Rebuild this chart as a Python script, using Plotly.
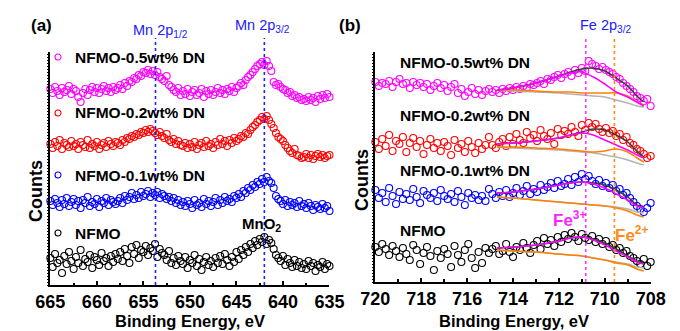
import numpy as np
import plotly.graph_objects as go

W, H = 680, 331
def PX(x): return x / W
def PY(y): return 1 - y / H

# ---------------- Panel (a): Mn 2p ----------------
be_a = np.linspace(665, 635, 121)

mn_05 = [196,192,198,194,190,197,193,195,199,191,196,194,188,183,192,196,190,195,198,193,197,192,196,199,194,197,193,198,195,
         197,200,196,202,199,204,203,207,206,210,209,213,
         212,215,211,214,210,213,208,206,
         204,209,200,198,195,193,197,190,
         194,191,196,189,193,195,190,192,196,188,194,191,195,190,193,197,192,195,191,196,194,198,193,197,
         199,202,200,205,208,210,213,216,219,221,
         223,220,224,219,
         214,203,200,201,
         198,196,195,192,193,189,190,187,188,185,
         186,184,188,185,187,183,189,186,190,187,191,188]
mn_02 = [141,137,143,139,145,136,142,140,138,144,139,141,136,143,140,138,145,137,141,139,143,136,140,142,138,144,141,139,143,
         142,140,145,143,147,146,149,148,151,150,153,152,
         155,153,156,154,152,150,153,149,
         147,151,145,143,146,141,144,140,
         139,142,137,141,138,143,136,140,142,138,144,139,141,137,143,140,146,141,144,139,145,142,147,144,
         146,149,148,152,151,155,158,160,163,165,
         168,166,169,165,
         161,157,152,148,
         146,144,140,137,134,132,136,130,129,127,
         128,131,127,130,126,129,131,128,130,127,129,130]
mn_01 = [84,80,86,82,78,85,81,87,79,83,86,80,84,77,85,82,88,79,83,81,86,78,84,82,87,80,85,83,81,
         84,87,82,89,85,88,92,86,90,87,93,89,
         91,94,88,92,90,93,87,91,
         89,86,88,84,87,82,85,80,
         83,79,84,81,77,85,80,82,78,86,81,84,79,83,87,80,85,82,88,84,86,83,89,87,
         91,88,94,92,97,95,100,98,103,101,
         106,103,108,104,
         102,97,89,86,
         84,81,85,79,83,80,82,78,84,79,
         81,77,82,79,75,80,78,76,81,77,79,74]
mn_00 = [27,18,31,22,25,12,29,21,33,24,16,28,22,35,19,26,23,30,17,28,25,20,32,24,27,19,29,23,31,
         26,33,24,36,29,22,38,31,40,27,35,33,
         39,30,37,34,41,28,36,32,
         30,25,34,22,27,20,29,24,
         21,28,17,25,22,30,19,26,15,23,28,20,24,18,27,22,29,21,31,25,19,28,23,33,
         26,35,30,38,33,41,37,44,40,46,
         43,48,41,45,
         42,36,30,27,
         24,29,20,26,22,18,25,19,23,17,
         21,16,24,19,22,14,20,18,23,16,21,19]

# ---------------- Panel (b): Fe 2p3/2 ----------------
be_b = np.linspace(720, 708, 81)

fe_05 = [200,196,199,198,201,195,200,203,198,199,194,200,197,199,195,198,192,196,199,194,197,
         191,195,198,189,193,186,190,194,188,192,187,191,193,
         190,192,189,193,191,194,192,195,193,196,194,198,
         197,199,201,198,203,202,205,207,204,208,
         210,206,212,209,214,211,221,
         218,216,213,215,212,210,
         208,205,203,199,196,193,
         190,186,184,181,183,176]
fe_02 = [140,133,143,136,147,131,141,138,145,130,139,144,135,141,128,137,143,134,139,131,140,
         136,127,142,134,138,130,141,135,129,139,133,137,145,
         137,134,140,143,136,145,138,148,142,139,150,144,
         147,141,152,146,143,149,138,153,147,151,
         148,155,150,146,157,152,159,
         155,158,153,150,154,149,
         151,146,148,142,145,139,
         137,133,131,128,124,126]
fe_01 = [92,84,89,80,94,86,78,90,83,88,82,93,85,79,91,87,84,89,81,92,86,
         83,88,80,91,85,77,89,84,87,82,86,81,93,
         88,84,90,86,92,85,89,94,87,91,96,88,
         93,90,97,92,95,99,94,101,96,98,
         103,97,105,100,108,103,106,
         101,98,102,96,99,94,
         97,91,93,87,89,84,
         80,76,73,70,74,79]
fe_00 = [35,30,38,33,27,36,31,25,34,28,22,37,32,18,29,35,26,12,31,24,33,
         28,15,36,27,20,32,38,24,14,30,19,34,29,
         33,36,28,31,38,30,25,35,32,39,34,29,
         37,41,33,44,38,42,36,45,40,47,
         43,49,45,41,48,44,42,
         46,40,43,38,41,35,
         37,32,34,29,31,26,
         24,21,18,23,16,20]

fit_x = [714.7, 714, 713, 712, 711.5, 711, 710.5, 710, 709.5, 709, 708.6, 708.3]
fits = {
    "0.5": dict(bg=[192,191,190,189,188,187,186,185,182,179,176,175],
                fe2=[192,192,191,190,190,189,189,189,189,186,180,177],
                fe3=[192,194,199,206,209,210,205,198,190,185,180,176],
                env=[192,194,199,206,210,213,214,211,204,196,186,180]),
    "0.2": dict(bg=[135,134,133,132,131,130,129,127,125,122,119,117],
                fe2=[135,135,134,133,132,131,130,131,133,130,124,120],
                fe3=[138,139,141,144,147,149,147,142,137,132,127,124],
                env=[138,139,141,144,147,150,153,152,147,140,131,125]),
    "0.1": dict(bg=[85,84,82,80,79,78,77,76,75,73,70,69],
                fe2=[85,84,82,80,79,78,77,76,74,71,67,65],
                fe3=[89,90,93,97,99,100,98,94,88,82,76,74],
                env=[89,90,93,97,99,100,99,97,92,85,77,74]),
    "0": dict(bg=[32,31,30,28,27,26,24,22,20,18,15,14],
              fe2=[32,31,30,28,27,26,24,22,19,17,13,11],
              fe3=[34,35,37,41,44,45,42,37,31,25,20,18],
              env=[34,35,37,41,44,45,43,39,33,26,21,18]),
}

labels = ["NFMO-0.5wt% DN", "NFMO-0.2wt% DN", "NFMO-0.1wt% DN", "NFMO"]
colors = ["#FF00FF", "#FF0000", "#0000FF", "#000000"]
mn_lines = [653.7, 642.0]
fe3_line, fe2_line = 710.83, 709.58

for arr, n in [(mn_05,121),(mn_02,121),(mn_01,121),(mn_00,121),(fe_05,81),(fe_02,81),(fe_01,81),(fe_00,81)]:
    assert len(arr) == n, (len(arr), n)

fig = go.Figure()
for ys, c in zip([mn_05, mn_02, mn_01, mn_00], colors):
    fig.add_trace(go.Scatter(x=be_a, y=ys, mode="markers", xaxis="x", yaxis="y",
                             marker=dict(symbol="circle-open", size=7, color=c, line=dict(width=1.1)),
                             cliponaxis=False))
for ys, c in zip([fe_05, fe_02, fe_01, fe_00], colors):
    fig.add_trace(go.Scatter(x=be_b, y=ys, mode="markers", xaxis="x2", yaxis="y2",
                             marker=dict(symbol="circle-open", size=7, color=c, line=dict(width=1.1)),
                             cliponaxis=False))
for key in ["0.5", "0.2", "0.1", "0"]:
    f = fits[key]
    for comp, col in [("bg", "#B4B4B4"), ("fe2", "#FF8000"), ("env", "#3C3C3C"), ("fe3", "#FF00FF")]:
        fig.add_trace(go.Scatter(x=fit_x, y=f[comp], mode="lines", xaxis="x2", yaxis="y2",
                                 line=dict(color=col, width=1.5, shape="spline", smoothing=1.0)))

bold = dict(family="Liberation Sans, Arial, sans-serif", color="black")
ax_common = dict(showline=True, linecolor="black", linewidth=1.5, showgrid=False, zeroline=False,
                 ticks="inside", ticklen=4, tickwidth=1.5, tickcolor="black",
                 tickfont=dict(size=18, weight="bold", **bold))
fig.update_layout(
    width=W, height=H, margin=dict(l=0, r=0, t=0, b=0),
    paper_bgcolor="white", plot_bgcolor="white", showlegend=False,
    xaxis=dict(domain=[PX(37), PX(329)], range=[665, 635], dtick=5, anchor="y",
               minor=dict(dtick=2.5, ticks="inside", ticklen=2, tickcolor="black"), **ax_common),
    yaxis=dict(domain=[PY(285), PY(52)], range=[0, 233], anchor="x", showline=True, linecolor="black",
               linewidth=1.5, showgrid=False, zeroline=False, showticklabels=False,
               ticks="outside", ticklen=2, dtick=3, tickcolor="black"),
    xaxis2=dict(domain=[PX(377), PX(665)], range=[720, 708], dtick=2, anchor="y2",
                minor=dict(dtick=1, ticks="inside", ticklen=3, tickcolor="black"), **ax_common),
    yaxis2=dict(domain=[PY(282), PY(52)], range=[0, 230], anchor="x2", showline=True, linecolor="black",
                linewidth=1.5, showgrid=False, zeroline=False, showticklabels=False,
                ticks="outside", ticklen=2, dtick=3, tickcolor="black"),
)

shapes = []
for e in mn_lines:
    shapes.append(dict(type="line", xref="x", yref="paper", x0=e, x1=e, y0=PY(285), y1=PY(38),
                       line=dict(color="#2020FF", width=1.6, dash="dot")))
shapes.append(dict(type="line", xref="x2", yref="paper", x0=fe3_line, x1=fe3_line, y0=PY(282), y1=PY(38),
                   line=dict(color="#FF33FF", width=1.6, dash="dot")))
shapes.append(dict(type="line", xref="x2", yref="paper", x0=fe2_line, x1=fe2_line, y0=PY(282), y1=PY(38),
                   line=dict(color="#FF8C1A", width=1.6, dash="dot")))
# legend circles (panel a)
for yy, c in zip([57, 113, 175, 233], colors):
    shapes.append(dict(type="circle", xref="paper", yref="paper", xsizemode="pixel", ysizemode="pixel",
                       xanchor=PX(45), yanchor=PY(yy), x0=-3, x1=3, y0=-3, y1=3,
                       line=dict(color=c, width=1.1)))
fig.update_layout(shapes=shapes)

ann = []
def T(x, y, text, size=15, color="black", xanchor="left", textangle=0):
    ann.append(dict(xref="paper", yref="paper", x=PX(x), y=PY(y), text=text, showarrow=False,
                    xanchor=xanchor, yanchor="middle", textangle=textangle,
                    font=dict(family="Liberation Sans, Arial, sans-serif", size=size, color=color)))

for yy, lab in zip([57, 113, 175, 233], labels):
    T(61, yy, "<b>%s</b>" % lab, 15.5)
for yy, lab in zip([62, 116, 170, 230], labels):
    T(401, yy, "<b>%s</b>" % lab, 15.5)
T(28, 25, "<b>(a)</b>", 17, xanchor="center")
T(350, 25, "<b>(b)</b>", 17, xanchor="center")
T(152, 31, "Mn 2p<sub>1/2</sub>", 14.5, "#2020FF", "center")
T(259, 26, "Mn 2p<sub>3/2</sub>", 14.5, "#2020FF", "center")
T(618, 26, "Fe 2p<sub>3/2</sub>", 14.5, "#2020FF", "center")
T(258, 224, "<b>MnO<sub>2</sub></b>", 15, xanchor="center")
T(580, 219, "<b>Fe<sup>3+</sup></b>", 17, "#FF22FF", "center")
T(645, 234, "<b>Fe<sup>2+</sup></b>", 17, "#FF8C1A", "center")
T(183, 321, "<b>Binding Energy, eV</b>", 16.5, xanchor="center")
T(522, 321, "<b>Binding Energy, eV</b>", 16.5, xanchor="center")
T(22, 191, "<b>Counts</b>", 18, xanchor="center", textangle=-90)
T(363, 180, "<b>Counts</b>", 18, xanchor="center", textangle=-90)
fig.update_layout(annotations=ann)

fig.write_html("out.html")
